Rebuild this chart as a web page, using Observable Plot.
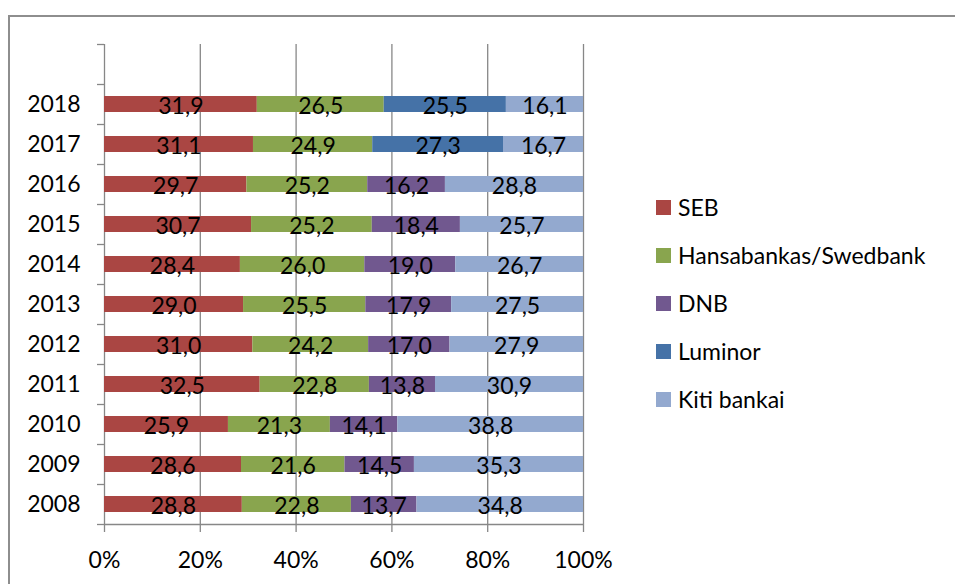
<!DOCTYPE html>
<html>
<head>
<meta charset="utf-8">
<script src="https://cdn.jsdelivr.net/npm/d3@7"></script>
<script src="https://cdn.jsdelivr.net/npm/@observablehq/plot@0.6"></script>
<style>
  html, body { margin: 0; padding: 0; background: #fff; overflow: hidden; }
  #wrap { position: relative; width: 955px; height: 584px; overflow: hidden; font-family: Lato, sans-serif; }
  #lineTop { position: absolute; left: 8px; top: 15px; width: 960px; height: 2px; background: #8e8e8e; }
  #lineLeft { position: absolute; left: 8px; top: 15px; width: 2px; height: 600px; background: #8e8e8e; }
  #legend { position: absolute; left: 656px; top: 183px; }
  .item { display: flex; align-items: center; height: 48px; font-size: 23px; color: #000; }
  .sw { width: 15px; height: 15px; margin-right: 7px; flex: none; }
</style>
</head>
<body>
<div id="wrap">
  <div id="lineTop"></div>
  <div id="lineLeft"></div>
  <div id="chart"></div>
  <div id="legend"></div>
</div>
<script>
const years   = [2008, 2009, 2010, 2011, 2012, 2013, 2014, 2015, 2016, 2017, 2018];
const banks   = ["SEB", "Hansabankas/Swedbank", "DNB", "Luminor", "Kiti bankai"];
const colors  = ["#AA4643", "#89A54E", "#71588F", "#4572A7", "#93A9CF"];
const seb     = [28.8, 28.6, 25.9, 32.5, 31.0, 29.0, 28.4, 30.7, 29.7, 31.1, 31.9];
const hansa   = [22.8, 21.6, 21.3, 22.8, 24.2, 25.5, 26.0, 25.2, 25.2, 24.9, 26.5];
const dnb     = [13.7, 14.5, 14.1, 13.8, 17.0, 17.9, 19.0, 18.4, 16.2, null, null];
const luminor = [null, null, null, null, null, null, null, null, null, 27.3, 25.5];
const kiti    = [34.8, 35.3, 38.8, 30.9, 27.9, 27.5, 26.7, 25.7, 28.8, 16.7, 16.1];
const xTicks  = [0, 0.2, 0.4, 0.6, 0.8, 1];

const series = [seb, hansa, dnb, luminor, kiti];
const rows = [];
years.forEach((yr, i) => {
  series.forEach((vals, s) => {
    if (vals[i] != null) rows.push({year: yr, idx: i, bank: banks[s], value: vals[i]});
  });
});
const fmt = v => v.toFixed(1).replace(".", ",");
const half = 0.2;

const chart = Plot.plot({
  width: 955,
  height: 584,
  marginLeft: 104,
  marginRight: 372,
  marginTop: 44,
  marginBottom: 60,
  style: {fontFamily: "Lato, sans-serif", fontSize: "23px", background: "transparent", color: "#000"},
  x: {domain: [0, 1]},
  y: {domain: [-0.5, years.length + 0.5]},
  color: {domain: banks, range: colors},
  marks: [
    Plot.gridX(xTicks, {stroke: "#878787", strokeOpacity: 1, strokeWidth: 1.3}),
    Plot.ruleY([-0.5], {stroke: "#878787", strokeWidth: 1.3}),
    Plot.axisX({ticks: xTicks, tickFormat: d => Math.round(d * 100) + "%", tickSize: 8, tickPadding: 19,
                stroke: "#878787", strokeWidth: 1.3, fontSize: 23, fill: "#000", label: null}),
    Plot.axisY({ticks: d3.range(-0.5, years.length + 1, 1), tickSize: 7, tickFormat: () => "",
                stroke: "#878787", strokeWidth: 1.3, label: null}),
    Plot.axisY({ticks: d3.range(years.length), tickFormat: i => String(years[i]), tickSize: 0, tickPadding: 24,
                fontSize: 23, fill: "#000", label: null}),
    Plot.rect(rows, Plot.stackX({
      x: "value", y: "idx", y1: d => d.idx - half, y2: d => d.idx + half,
      fill: "bank", offset: "normalize", order: null
    })),
    Plot.text(rows, Plot.stackX({
      x: "value", y: "idx", text: d => fmt(d.value), offset: "normalize", order: null,
      fill: "#000", fontSize: 23, dy: 2
    }))
  ]
});
document.getElementById("chart").appendChild(chart);

const legend = document.getElementById("legend");
banks.forEach((b, i) => {
  const it = document.createElement("div");
  it.className = "item";
  const sw = document.createElement("span");
  sw.className = "sw";
  sw.style.background = colors[i];
  const tx = document.createElement("span");
  tx.textContent = b;
  it.appendChild(sw); it.appendChild(tx);
  legend.appendChild(it);
});
</script>
</body>
</html>
